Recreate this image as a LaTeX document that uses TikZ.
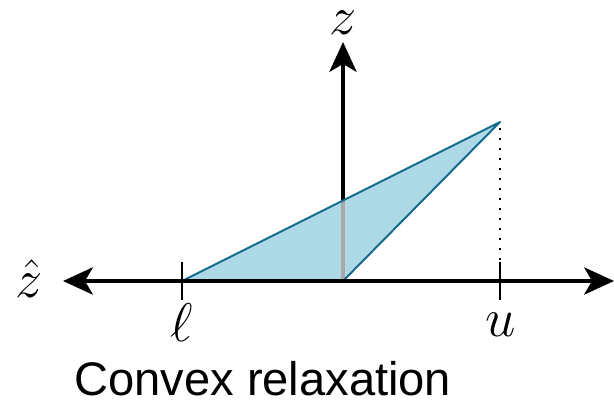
\RequirePackage{fix-cm}
\documentclass[tikz,border=0pt]{standalone}
\usepackage{fontspec}
\setsansfont{Liberation Sans}
\usetikzlibrary{arrows.meta}
\definecolor{relaxfill}{RGB}{173,216,230}
\definecolor{relaxedge}{RGB}{16,104,140}
\definecolor{cutgray}{RGB}{168,168,168}

\begin{document}
\begin{tikzpicture}[
  x=0.02cm,y=-0.02cm,
  axis/.style={draw=black,line width=2.1pt,
               -{Stealth[length=17pt,width=15.5pt,inset=4.5pt]}},
  tick/.style={draw=black,line width=1.1pt},
  relax/.style={fill=relaxfill,draw=relaxedge,line width=1.1pt,line join=round},
  cut/.style={draw=cutgray,line width=2.4pt},
  bound/.style={draw=black,line width=1pt,dash pattern=on 1pt off 4.7pt},
  lab/.style={font=\fontsize{31}{36}\selectfont,inner sep=0pt}
]
\useasboundingbox (0,0) rectangle (614,405);
% points of the relaxation
\coordinate (lo) at (182,281);
\coordinate (origin) at (343,281);
\coordinate (top) at (500,122);
\coordinate (cross) at (343,200.5);
% vertical axis
\draw[axis] (origin) -- (343,42);
% triangle
\fill[relaxfill] (lo) -- (origin) -- (top) -- cycle;
\draw[cut] (origin) -- (cross);
\draw[relax,fill=none] (lo) -- (top) -- (origin);
% horizontal axis
\coordinate (left) at (63,281);
\coordinate (right) at (614,281);
\draw[axis] (origin) -- (left);
\draw[axis] (origin) -- (right);
\draw[tick] (182,262) -- (182,300);
\draw[tick] (500,262) -- (500,300);
\draw[bound] (500,128) -- (500,262);
% labels
\node[lab] (zhat) at (29,279) {$\hat{z}$};
\node[lab] (zlab) at (343,23) {$z$};
\node[lab] (llab) at (182,323) {$\ell$};
\node[lab] (ulab) at (501,325) {$u$};
\node[anchor=base west,inner sep=0pt,font=\sffamily\fontsize{26.8}{30}\selectfont]
  (title) at (74,395) {Convex relaxation};
\end{tikzpicture}
\end{document}
